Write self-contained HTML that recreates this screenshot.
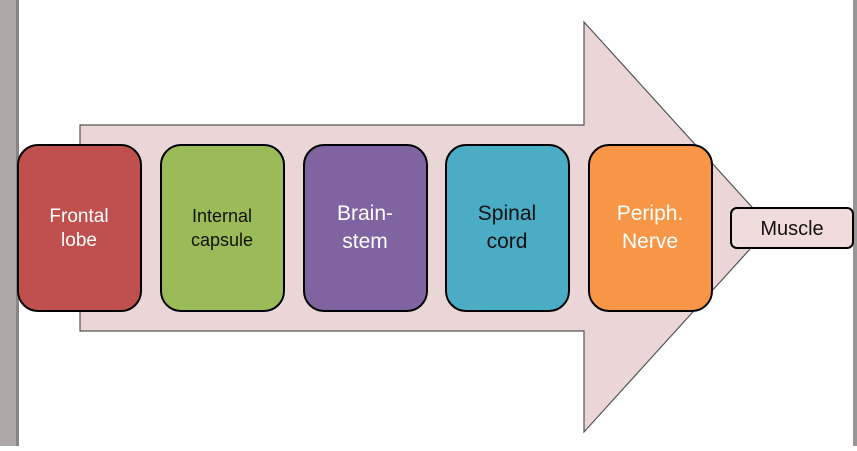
<!DOCTYPE html>
<html><head><style>
body{margin:0;width:857px;height:446px;overflow:hidden;background:#fff;font-family:"Liberation Sans",sans-serif}
</style></head><body>
<svg width="857" height="446" xmlns="http://www.w3.org/2000/svg">
<rect x="0" y="0" width="16" height="446" fill="#aea8a8"/>
<rect x="16" y="0" width="3" height="446" fill="#8a8484"/>
<rect x="853" y="0" width="4" height="446" fill="#9a9494"/>
<polygon points="80,125 584,125 584,22 770,227 584,432 584,331 80,331" fill="#ead6d6" stroke="#555" stroke-width="1.2"/>
<g stroke="#000" stroke-width="2">
<rect x="18" y="145" width="123" height="166" rx="20" fill="#c0504d"/>
<rect x="161" y="145" width="123" height="166" rx="20" fill="#9bbb59"/>
<rect x="304" y="145" width="123" height="166" rx="20" fill="#8064a2"/>
<rect x="446" y="145" width="123" height="166" rx="20" fill="#4bacc6"/>
<rect x="589" y="145" width="123" height="166" rx="20" fill="#f79646"/>
<rect x="731" y="208" width="122" height="40" rx="6" fill="#f2dcdb"/>
</g>
<g text-anchor="middle" font-family="Liberation Sans, sans-serif">
<text x="79" y="222" font-size="19" fill="#fff">Frontal</text>
<text x="79" y="246" font-size="19" fill="#fff">lobe</text>
<text x="222" y="222" font-size="18" fill="#111">Internal</text>
<text x="222" y="246" font-size="18" fill="#111">capsule</text>
<text x="365" y="220" font-size="21" fill="#fff">Brain-</text>
<text x="365" y="248" font-size="21" fill="#fff">stem</text>
<text x="507" y="220" font-size="21" fill="#111">Spinal</text>
<text x="507" y="248" font-size="21" fill="#111">cord</text>
<text x="650" y="220" font-size="21" fill="#fff">Periph.</text>
<text x="650" y="248" font-size="21" fill="#fff">Nerve</text>
<text x="792" y="235" font-size="20" fill="#111">Muscle</text>
</g>
</svg>
</body></html>
